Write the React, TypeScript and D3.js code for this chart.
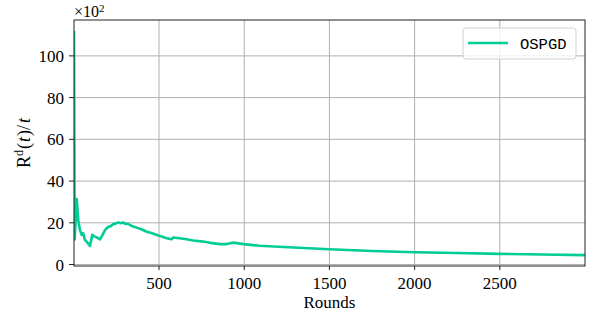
import * as d3 from "d3";

// regret per round, in units of 10^2
const rounds = [1, 5, 17, 26, 36, 46, 55, 65, 80, 95, 108, 120, 134, 154, 170, 183, 202, 215, 232, 245, 261, 275, 291, 300, 320, 340, 369, 400, 428, 460, 487, 520, 545, 574, 584, 620, 662, 700, 760, 800, 858, 897, 936, 995, 1092, 1200, 1350, 1500, 1750, 2000, 2250, 2500, 2750, 3000];
const ospgd = [112, 12, 31.4, 21.3, 16.5, 14.2, 15, 11.8, 10.5, 8.9, 14.2, 13.5, 13, 12.1, 14.5, 16.5, 18.1, 18.3, 19.4, 19.6, 20.2, 19.8, 20.2, 19.6, 19.4, 18.5, 17.7, 16.8, 15.7, 15, 14.2, 13.3, 12.6, 12.1, 13, 12.6, 12.1, 11.5, 11, 10.4, 9.8, 9.8, 10.5, 9.8, 9, 8.5, 7.9, 7.3, 6.5, 5.9, 5.5, 5.1, 4.8, 4.5];
const xTicks = [500, 1000, 1500, 2000, 2500];
const yTicks = [0, 20, 40, 60, 80, 100];
const seriesName = "OSPGD";

const W = 598, H = 312;
const left = 74, right = 585, top = 20, bottom = 266;
const serif = "'Liberation Serif', 'DejaVu Serif', serif";
const green = "#00cc96";

export default function App() {
  const x = d3.scaleLinear().domain([1, 3000]).range([left, right]);
  const y = d3.scaleLinear().domain([-0.7, 117.2]).range([bottom, top]);
  const pts = rounds.map((r, i) => [r, ospgd[i]] as [number, number]);
  const line = d3.line<[number, number]>().x((d) => x(d[0])).y((d) => y(d[1]));

  return (
    <svg width={W} height={H} style={{ position: "absolute", left: 0, top: 0, background: "#fff" }}>
      <defs>
        <clipPath id="plot">
          <rect x={left} y={top} width={right - left} height={bottom - top} />
        </clipPath>
      </defs>
      {/* grid */}
      {xTicks.map((t) => (
        <line key={"gx" + t} x1={x(t)} x2={x(t)} y1={top} y2={bottom} stroke="#b0b0b0" strokeWidth={1} />
      ))}
      {yTicks.map((t) => (
        <line key={"gy" + t} x1={left} x2={right} y1={y(t)} y2={y(t)} stroke="#b0b0b0" strokeWidth={1} />
      ))}
      <path d={line(pts) || ""} fill="none" stroke={green} strokeWidth={2.6} strokeLinejoin="round" clipPath="url(#plot)" />
      {/* spines */}
      <rect x={left} y={top} width={right - left} height={bottom - top} fill="none" stroke="#222" strokeWidth={1} />
      {/* ticks */}
      {xTicks.map((t) => (
        <g key={"tx" + t}>
          <line x1={x(t)} x2={x(t)} y1={bottom} y2={bottom + 4} stroke="#222" />
          <text x={x(t)} y={bottom + 23} textAnchor="middle" fontFamily={serif} fontSize={17}>{t}</text>
        </g>
      ))}
      {yTicks.map((t) => (
        <g key={"ty" + t}>
          <line x1={left - 5} x2={left} y1={y(t)} y2={y(t)} stroke="#222" />
          <text x={left - 10} y={y(t) + 6} textAnchor="end" fontFamily={serif} fontSize={17}>{t}</text>
        </g>
      ))}
      {/* offset label */}
      <text x={left} y={17} fontFamily={serif} fontSize={16}>
        ×10<tspan dy={-5} fontSize={11}>2</tspan>
      </text>
      {/* axis labels */}
      <text x={(left + right) / 2} y={308} textAnchor="middle" fontFamily={serif} fontSize={17}>Rounds</text>
      <text transform={`translate(30,${(top + bottom) / 2}) rotate(-90)`} textAnchor="middle" fontFamily={serif} fontSize={18}>
        R<tspan dy={-7} fontSize={12}>d</tspan><tspan dy={7} dx={1}>(</tspan><tspan fontStyle="italic" dx={1}>t</tspan><tspan dx={1}>)/</tspan><tspan fontStyle="italic" dx={2}>t</tspan>
      </text>
      {/* legend */}
      <g>
        <rect x={463} y={28} width={113} height={31} rx={3} fill="#fff" fillOpacity={0.8} stroke="#d0d0d0" />
        <line x1={468} x2={508} y1={43} y2={43} stroke={green} strokeWidth={2.6} />
        <text x={520} y={48.5} fontFamily="'Liberation Mono', 'DejaVu Sans Mono', monospace" fontSize={15.5}>{seriesName}</text>
      </g>
    </svg>
  );
}
